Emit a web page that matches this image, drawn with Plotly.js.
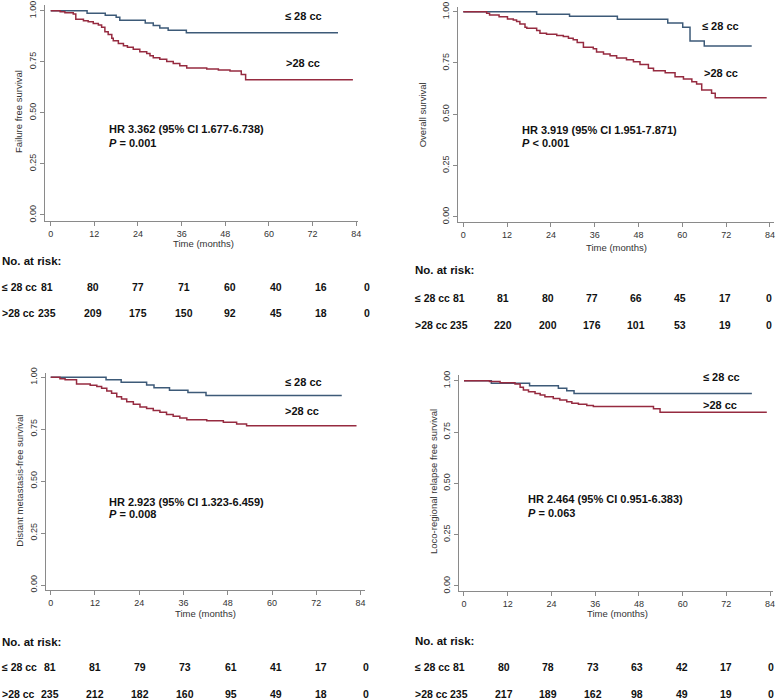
<!DOCTYPE html>
<html><head><meta charset="utf-8">
<script src="https://cdn.plot.ly/plotly-3.0.1.min.js"></script>
<style>body{margin:0;background:#fff}#chart{width:778px;height:700px}</style>
</head><body><div id="chart"></div>
<script>
// ---------- data ----------
const timePoints = [0, 12, 24, 36, 48, 60, 72, 84];
const groupNames = ['≤ 28 cc', '>28 cc'];
const yTitles = ['Failure free survival', 'Overall survival', 'Distant metastasis-free survival', 'Loco-regional relapse free survival'];
const hrTexts = ['HR 3.362 (95% CI 1.677-6.738)', 'HR 3.919 (95% CI 1.951-7.871)', 'HR 2.923 (95% CI 1.323-6.459)', 'HR 2.464 (95% CI 0.951-6.383)'];
const pTexts = ['= 0.001', '< 0.001', '= 0.008', '= 0.063'];

// Failure free survival
const ffsLowT  = [0, 10, 15, 18, 19, 26, 28.2, 30, 32.3, 37.3, 79];
const ffsLowS  = [1, 0.988, 0.978, 0.968, 0.953, 0.940, 0.928, 0.916, 0.904, 0.892, 0.892];
const ffsHighT = [0, 2.6, 3.9, 6.2, 6.9, 9, 10.3, 11.7, 13.1, 14, 14.9, 15.8, 16.8, 17.2, 18.6, 20, 21.1, 22.7, 24.5, 26.4, 27.3, 28.2, 30, 31.9, 33.7, 35.5, 37.4, 42.9, 46.1, 49.3, 52.4, 53.6, 83.1];
const ffsHighS = [1, 0.995, 0.990, 0.984, 0.958, 0.951, 0.946, 0.938, 0.930, 0.919, 0.897, 0.884, 0.865, 0.853, 0.840, 0.829, 0.821, 0.811, 0.799, 0.791, 0.780, 0.770, 0.762, 0.752, 0.742, 0.731, 0.720, 0.715, 0.710, 0.705, 0.688, 0.662, 0.662];

// Overall survival
const osLowT  = [0, 20.1, 29.1, 42.2, 56, 60.1, 62.1, 66, 79];
const osLowS  = [1, 0.988, 0.978, 0.963, 0.945, 0.924, 0.857, 0.833, 0.833];
const osHighT = [0, 6.4, 7.2, 9.8, 12.1, 13.7, 14.6, 15.5, 16.9, 17.4, 20.1, 21, 22.8, 25.6, 27.4, 28.8, 30.1, 31.2, 32.9, 35.6, 36.5, 38.4, 40.2, 42, 44.7, 46.6, 48.4, 50.7, 52.1, 55.3, 58, 60.3, 62.6, 63.9, 65.3, 68, 69, 83.1];
const osHighS = [1, 0.992, 0.984, 0.976, 0.965, 0.960, 0.952, 0.940, 0.924, 0.919, 0.908, 0.895, 0.890, 0.884, 0.879, 0.871, 0.863, 0.850, 0.827, 0.819, 0.803, 0.794, 0.785, 0.774, 0.766, 0.756, 0.742, 0.724, 0.712, 0.702, 0.683, 0.672, 0.659, 0.647, 0.618, 0.602, 0.580, 0.580];

// Distant metastasis-free survival
const dmLowT  = [0, 15, 19.1, 26, 28, 32.2, 37.2, 42.1, 78.9];
const dmLowS  = [1, 0.988, 0.976, 0.963, 0.950, 0.937, 0.926, 0.912, 0.912];
const dmHighT = [0, 2.5, 3.9, 7, 10.7, 12.5, 13.8, 15.2, 16.5, 17.9, 19.2, 20.6, 22.4, 24.2, 26, 27.8, 29.6, 31.4, 33.2, 35, 36.9, 42.3, 46.8, 50.4, 53.1, 82.9];
const dmHighS = [1, 0.993, 0.988, 0.967, 0.961, 0.956, 0.947, 0.934, 0.923, 0.906, 0.895, 0.882, 0.870, 0.857, 0.849, 0.840, 0.832, 0.821, 0.812, 0.804, 0.796, 0.791, 0.783, 0.775, 0.766, 0.766];

// Loco-regional relapse free survival
const lrLowT  = [0, 7.5, 18, 25.9, 28.2, 30.2, 79];
const lrLowS  = [1, 0.988, 0.976, 0.963, 0.951, 0.938, 0.938];
const lrHighT = [0, 7, 9.9, 14, 15.4, 16.3, 17.7, 19.5, 20.9, 22.2, 24.5, 26.3, 28.2, 29.6, 31.4, 33.7, 35.5, 52, 53.8, 83.1];
const lrHighS = [1, 0.996, 0.990, 0.984, 0.968, 0.955, 0.946, 0.938, 0.930, 0.922, 0.914, 0.906, 0.898, 0.890, 0.885, 0.879, 0.875, 0.863, 0.847, 0.847];

// Numbers at risk
const ffsRiskLow  = [81, 80, 77, 71, 60, 40, 16, 0];
const ffsRiskHigh = [235, 209, 175, 150, 92, 45, 18, 0];
const osRiskLow   = [81, 81, 80, 77, 66, 45, 17, 0];
const osRiskHigh  = [235, 220, 200, 176, 101, 53, 19, 0];
const dmRiskLow   = [81, 81, 79, 73, 61, 41, 17, 0];
const dmRiskHigh  = [235, 212, 182, 160, 95, 49, 18, 0];
const lrRiskLow   = [81, 80, 78, 73, 63, 42, 17, 0];
const lrRiskHigh  = [235, 217, 189, 162, 98, 49, 19, 0];

// ---------- layout geometry (pixels) ----------
const W = 778, H = 700;
const px = x => x / W;
const py = y => 1 - y / H;
const FONT = 'Liberation Sans, Arial, Helvetica, sans-serif';
const BLUE = '#3d5a78', RED = '#962b40';

const panels = [
  {low:[ffsLowT, ffsLowS], high:[ffsHighT, ffsHighS], risk:[ffsRiskLow, ffsRiskHigh],
   xd:[45,358], yd:[5,220.7], xr:[-1.57,84.5], yr:[-0.028,1.028],
   lowLab:[283,16], highLab:[284,63.3], hr:[106.7,129.3], p:143.3,
   ytl:[18.3,111.7], xtl:[203,243], tab:{lx:0, hy:261, r1:286.7, r2:313.3, p0:47, p84:367}},
  {low:[osLowT, osLowS], high:[osHighT, osHighS], risk:[osRiskLow, osRiskHigh],
   xd:[457.7,774], yd:[7,221.7], xr:[-1.53,85.1], yr:[-0.024,1.023],
   lowLab:[700,26], highLab:[701.7,72.7], hr:[520,130], p:143.3,
   ytl:[423.3,115], xtl:[616.7,247], tab:{lx:413, hy:270, r1:297.7, r2:325, p0:459, p84:769}},
  {low:[dmLowT, dmLowS], high:[dmHighT, dmHighS], risk:[dmRiskLow, dmRiskHigh],
   xd:[45.7,365], yd:[373.3,590], xr:[-1.36,85.2], yr:[-0.024,1.019],
   lowLab:[282.7,381.7], highLab:[282.7,411], hr:[106.7,501.7], p:514,
   ytl:[20,480.7], xtl:[205,613], tab:{lx:0, hy:641.7, r1:667, r2:694, p0:50, p84:366}},
  {low:[lrLowT, lrLowS], high:[lrHighT, lrHighS], risk:[lrRiskLow, lrRiskHigh],
   xd:[459,773], yd:[375,590.7], xr:[-1.37,84.8], yr:[-0.023,1.028],
   lowLab:[700.7,377.3], highLab:[700.7,405.3], hr:[526,499.3], p:512.7,
   ytl:[433.3,481.7], xtl:[617.7,613.3], tab:{lx:413, hy:640.7, r1:667, r2:694, p0:459, p84:771}}
];

const traces = [];
const layout = {
  width: W, height: H,
  margin: {l:0, r:0, t:0, b:0},
  paper_bgcolor: '#fff', plot_bgcolor: '#fff',
  showlegend: false,
  font: {family: FONT, color: '#222'},
  annotations: []
};
const ann = (text, x, y, opts) => layout.annotations.push(Object.assign({
  text, x: px(x), y: py(y), xref: 'paper', yref: 'paper', showarrow: false,
  xanchor: 'left', yanchor: 'middle', font: {family: FONT, size: 11, color: '#111'}
}, opts || {}));

panels.forEach((p, i) => {
  const sfx = i === 0 ? '' : String(i + 1);
  const xa = 'x' + sfx, ya = 'y' + sfx;
  traces.push({x: p.low[0], y: p.low[1], xaxis: xa, yaxis: ya, type: 'scatter', mode: 'lines',
    line: {shape: 'hv', color: BLUE, width: 1.5}, name: groupNames[0], hoverinfo: 'skip'});
  traces.push({x: p.high[0], y: p.high[1], xaxis: xa, yaxis: ya, type: 'scatter', mode: 'lines',
    line: {shape: 'hv', color: RED, width: 1.5}, name: groupNames[1], hoverinfo: 'skip'});
  layout['xaxis' + sfx] = {
    domain: [px(p.xd[0]), px(p.xd[1])], range: p.xr, anchor: ya,
    tickvals: timePoints, ticks: 'outside', ticklen: 4, tickcolor: '#8a8a8a',
    showline: true, linecolor: '#8a8a8a', linewidth: 1, showgrid: false, zeroline: false,
    tickfont: {family: FONT, size: 9, color: '#333'}, fixedrange: true
  };
  layout['yaxis' + sfx] = {
    domain: [py(p.yd[1]), py(p.yd[0])], range: p.yr, anchor: xa,
    tickvals: [0, 0.25, 0.5, 0.75, 1], tickformat: '.2f', tickangle: -90,
    ticks: 'outside', ticklen: 4, tickcolor: '#8a8a8a',
    showline: true, linecolor: '#8a8a8a', linewidth: 1, showgrid: false, zeroline: false,
    tickfont: {family: FONT, size: 9, color: '#333'}, fixedrange: true
  };
  // group labels on plot
  ann('<b>' + groupNames[0] + '</b>', p.lowLab[0], p.lowLab[1]);
  ann('<b>' + groupNames[1] + '</b>', p.highLab[0], p.highLab[1]);
  ann('<b>' + hrTexts[i] + '</b>', p.hr[0], p.hr[1]);
  ann('<b><i>P</i> ' + pTexts[i] + '</b>', p.hr[0], p.p);
  // axis titles
  ann(yTitles[i], p.ytl[0], p.ytl[1], {xanchor: 'center', textangle: -90, font: {family: FONT, size: 9.5, color: '#333'}});
  ann('Time (months)', p.xtl[0], p.xtl[1], {xanchor: 'center', font: {family: FONT, size: 9.5, color: '#333'}});
  // at-risk table
  const t = p.tab;
  const tf = {family: FONT, size: 10.5, color: '#111'};
  ann('<b>No. at risk:</b>', t.lx, t.hy, {font: {family: FONT, size: 11.5, color: '#111'}});
  ann('<b>' + groupNames[0] + '</b>', t.lx, t.r1, {font: tf});
  ann('<b>' + groupNames[1] + '</b>', t.lx, t.r2, {font: tf});
  timePoints.forEach((tp, k) => {
    const cx = t.p0 + tp * (t.p84 - t.p0) / 84;
    ann('<b>' + p.risk[0][k] + '</b>', cx, t.r1, {xanchor: 'center', font: tf});
    ann('<b>' + p.risk[1][k] + '</b>', cx, t.r2, {xanchor: 'center', font: tf});
  });
});

Plotly.newPlot('chart', traces, layout, {staticPlot: true, displayModeBar: false});
</script>
</body></html>
